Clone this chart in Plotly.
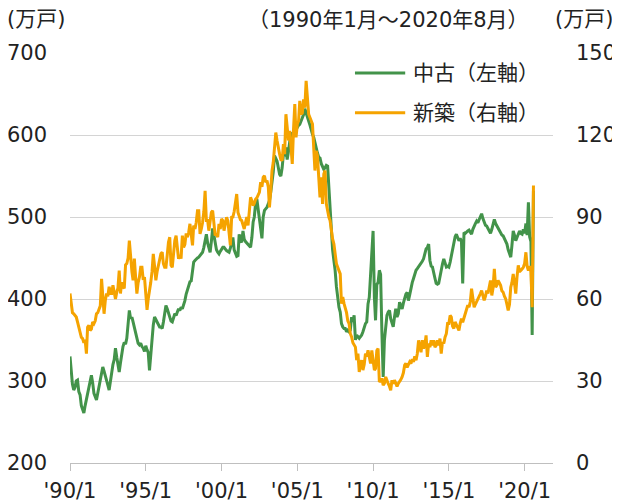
import pandas as pd
import plotly.graph_objects as go

# monthly, 1990/1 - 2020/8
months = pd.date_range("1990-01-01", periods=368, freq="MS")

# 中古 (left axis, 万戸)
used = [
    330, 305, 296, 289, 292, 300, 301, 287, 283, 270, 266, 261,  # 1990
    270, 278, 285, 293, 300, 307, 298, 285, 281, 277, 285, 292,  # 1991
    300, 310, 317, 312, 305, 299, 295, 289, 300, 313, 320, 326,  # 1992
    340, 329, 317, 311, 322, 334, 342, 347, 345, 352, 370, 386,  # 1993
    376, 378, 372, 366, 360, 353, 346, 344, 346, 342, 340, 336,  # 1994
    343, 338, 335, 313, 330, 358, 368, 378, 375, 372, 370, 366,  # 1995
    366, 364, 372, 384, 392, 388, 382, 376, 373, 372, 376, 382,  # 1996
    380, 384, 388, 386, 390, 388, 392, 398, 406, 412, 418, 421,  # 1997
    422, 432, 445, 447, 449, 450, 451, 453, 455, 457, 463, 472,  # 1998
    479, 468, 463, 457, 470, 486, 478, 467, 460, 457, 455, 458,  # 1999
    461, 463, 463, 460, 459, 458, 457, 462, 468, 475, 460, 455,  # 2000
    452, 453, 479, 471, 469, 483, 473, 470, 468, 467, 465, 463,  # 2001
    475, 494, 500, 516, 522, 510, 496, 480, 474, 500, 508, 510,  # 2002
    512, 516, 520, 530, 542, 555, 575, 570, 568, 560, 552, 550,  # 2003
    560, 577, 574, 585, 570, 580, 593, 603, 598, 600, 604, 607,  # 2004
    610, 612, 613, 617, 621, 625, 632, 626, 622, 617, 612, 605,  # 2005
    601, 597, 590, 585, 578, 573, 572, 565, 560, 558, 560, 563,  # 2006
    562, 536, 498, 480, 460, 447, 435, 415, 398, 390, 384, 370,  # 2007
    366, 364, 364, 360, 362, 360, 362, 378, 372, 380, 350, 356,  # 2008
    354, 352, 354, 356, 360, 366, 370, 372, 394, 402, 425, 460,  # 2009
    483, 402, 374, 418, 420, 435, 430, 360, 305, 350, 370, 380,  # 2010
    384, 386, 376, 372, 366, 378, 388, 378, 382, 396, 392, 388,  # 2011
    395, 402, 406, 408, 398, 405, 414, 420, 425, 431, 435, 437,  # 2012
    439, 441, 443, 446, 449, 455, 461, 463, 467, 447, 440, 439,  # 2013
    430, 425, 419, 418, 419, 428, 435, 443, 449, 445, 439, 440,  # 2014
    439, 445, 452, 461, 470, 476, 479, 475, 471, 474, 470, 419,  # 2015
    481, 480, 482, 483, 484, 481, 479, 485, 490, 492, 495, 493,  # 2016
    497, 500, 504, 498, 494, 490, 489, 486, 483, 480, 485, 490,  # 2017
    497, 492, 489, 486, 483, 481, 478, 477, 474, 470, 467, 460,  # 2018
    455, 451, 465, 483, 478, 471, 475, 480, 483, 480, 479, 485,  # 2019
    480, 492, 478, 518, 476, 470, 356, 532,                      # 2020
]

# 新築 (right axis, 万戸)
new = [
    62, 57, 55, 54.6, 54, 53.4, 51.6, 50, 48, 46, 45.5, 44,
    45, 40, 49.7, 50.4, 48.5, 49, 51.6, 51, 52, 54.6, 55, 56.5,
    57.5, 67.4, 60, 54.6, 59.5, 62, 61, 64.5, 62, 62, 65, 62.5,
    60, 62.5, 64, 70.4, 62, 66.2, 64.5, 63.9, 72.5, 73, 75, 81.4,
    75, 70, 66.8, 74.8, 68, 62, 66, 68, 71.6, 71.6, 67, 68,
    62, 56, 60, 64.3, 66, 70, 76.5, 72, 66.8, 70, 72, 74,
    76.6, 77.1, 72.9, 71.6, 71.6, 76, 80.8, 82.6, 72.3, 71.6, 76, 81.4,
    83.2, 77, 74.7, 76, 74.8, 83.2, 78.9, 80, 84, 82.6, 84.4, 87.5,
    82.6, 79.6, 86.9, 85.6, 88, 92.3, 92.3, 83.8, 85.6, 88, 92, 99.6,
    88.7, 88.7, 85, 89, 91.7, 92.3, 86, 83.2, 84, 82.6, 87.5, 85.6,
    89.3, 88.7, 85, 87.5, 89.9, 88.7, 84, 79.6, 89.9, 90, 92, 95,
    98.4, 91.7, 90.5, 89, 88.7, 87, 85.6, 88, 90, 86.9, 93, 97.2,
    96, 94.2, 95, 96.5, 97, 97.8, 99, 102.7, 101, 104.5, 105.1, 102.7,
    103.3, 101, 93.5, 99.6, 106.9, 110, 117, 120.9, 117.9, 115, 113, 111,
    110.6, 116.7, 113, 127.6, 121.5, 118, 121.5, 115, 109.4, 122, 131.3, 119.1,
    124, 125.2, 132.5, 127.6, 128, 133, 130, 139.8, 133.7, 127.6, 126.4, 125.2,
    124, 115, 107, 114.2, 112.4, 104.5, 97.2, 104.5, 94.8, 105.7, 107, 94.8,
    92, 89.9, 88.7, 85, 82, 80.2, 76, 72.9, 71.6, 70.4, 69.2, 58.3,
    60.7, 58.3, 57, 55, 52, 51, 47.3, 46.1, 44, 43, 42.4, 37.6,
    40, 33.3, 36.4, 37.6, 34, 36, 40, 39, 41.2, 38.8, 36.4, 41.2,
    38, 34, 34.6, 41.2, 41.9, 29.7, 30, 31, 28.5, 29.1, 31.5, 30,
    29, 28, 26.6, 30.3, 29, 30.3, 29, 28, 29.1, 29.7, 30.5, 31.5,
    33, 35.8, 36.4, 35, 36.4, 37, 36.4, 38, 37, 39, 37.6, 40,
    44.9, 42.4, 40.5, 44.9, 41.9, 43, 46.7, 38.8, 43.7, 42.4, 44.9, 43,
    44.9, 42.4, 43, 44.9, 43, 45.5, 40, 44.3, 43.7, 46, 47.3, 51,
    51, 54, 53.4, 50, 49.2, 51.6, 50.5, 50, 48.5, 51, 52.8, 51.5,
    53, 54.6, 56, 57.7, 57, 59, 63.8, 60, 57, 58, 58.9, 60,
    61, 62, 63.1, 61, 59.5, 61, 63.1, 62, 64, 66.8, 61.3, 64,
    71, 64.3, 65, 66.8, 66, 65, 63, 62.5, 61, 60.1, 58, 55.8,
    58, 64.3, 66, 69.2, 66, 62, 68, 72.3, 70, 70.4, 71, 71.6,
    73, 77.1, 72, 70.4, 72, 70, 57, 101.5,
]

tick_dates = ["1990-01-01", "1995-01-01", "2000-01-01", "2005-01-01",
              "2010-01-01", "2015-01-01", "2020-01-01"]
tick_text = ["'90/1", "'95/1", "'00/1", "'05/1", "'10/1", "'15/1", "'20/1"]

GREEN = "#43934A"
ORANGE = "#F5A300"
FONT = "DejaVu Sans, Noto Sans CJK JP, sans-serif"
TXT = "#222222"
GRID = "#d4d4d4"

fig = go.Figure()
fig.add_trace(go.Scatter(x=months, y=used, mode="lines", name="中古（左軸）",
                         line=dict(color=GREEN, width=3), yaxis="y"))
fig.add_trace(go.Scatter(x=months, y=new, mode="lines", name="新築（右軸）",
                         line=dict(color=ORANGE, width=3), yaxis="y2"))

# page body keeps an 8px margin, so the figure is 8px smaller each way
fig.update_layout(
    width=612, height=495,
    margin=dict(l=62, r=67, t=45, b=40),
    paper_bgcolor="white", plot_bgcolor="white",
    showlegend=False,
    font=dict(family=FONT, size=21, color=TXT),
    xaxis=dict(type="date", range=["1990-01-01", "2021-11-15"],
               tickvals=tick_dates, ticktext=tick_text,
               ticks="outside", ticklen=7, tickcolor="#bfbfbf",
               showline=True, linecolor="#bfbfbf", showgrid=False,
               zeroline=False, automargin=False, ticklabelstandoff=2),
    yaxis=dict(range=[200, 700], dtick=100, showgrid=True, gridcolor=GRID,
               zeroline=False, showline=False, ticklabelstandoff=22,
               automargin=False),
    yaxis2=dict(range=[0, 150], dtick=30, overlaying="y", side="right",
                showgrid=False, zeroline=False, showline=False,
                ticklabelstandoff=22, automargin=False),
)

# headers
fig.add_annotation(text="(万戸)", xref="paper", yref="paper", x=-0.135, y=1.083,
                   xanchor="left", yanchor="middle", showarrow=False)
fig.add_annotation(text="（1990年1月～2020年8月）", xref="paper", yref="paper",
                   x=0.66, y=1.08, xanchor="center", yanchor="middle",
                   showarrow=False)
fig.add_annotation(text="(万戸)", xref="paper", yref="paper", x=1.0, y=1.083,
                   xanchor="left", yanchor="middle", showarrow=False)

# legend drawn by hand
for ypos, col, label in [(0.951, GREEN, "中古（左軸）"), (0.854, ORANGE, "新築（右軸）")]:
    fig.add_shape(type="line", xref="paper", yref="paper", x0=0.59, x1=0.694,
                  y0=ypos, y1=ypos, line=dict(color=col, width=3))
    fig.add_annotation(text=label, xref="paper", yref="paper", x=0.706, y=ypos,
                       xanchor="left", yanchor="middle", showarrow=False)

fig.write_html("out.html")
